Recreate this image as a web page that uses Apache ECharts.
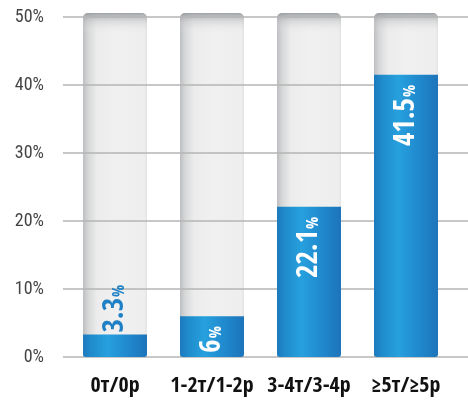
<!DOCTYPE html>
<html>
<head>
<meta charset="utf-8">
<script src="https://cdn.jsdelivr.net/npm/echarts@6/dist/echarts.min.js"></script>
<style>
  html, body { margin: 0; padding: 0; background: #ffffff; }
  #chart { width: 468px; height: 401px; }
</style>
</head>
<body>
<div id="chart"></div>
<script>
// Household groups and their share (%)
const categories = ['0т/0р', '1-2т/1-2р', '3-4т/3-4р', '≥5т/≥5р'];
const shares = [3.3, 6, 22.1, 41.5];

// Value axis ticks
const axisMin = 0;
const axisMax = 50;
const axisStep = 10;

// Height of the grey track behind each bar, and where its top shading starts
const trackTop = 50.6;
const shadeStart = 47.6;

const BOLD_FONT = "'Open Sans Condensed', 'Roboto Condensed', sans-serif";
const TICK_FONT = "'Roboto Condensed', 'Open Sans Condensed', sans-serif";

const chart = echarts.init(document.getElementById('chart'), null, { renderer: 'canvas' });

const blueFill = {
  type: 'linear', x: 0, y: 0, x2: 1, y2: 0,
  colorStops: [
    { offset: 0, color: '#1c79bd' },
    { offset: 0.12, color: '#1f8bcb' },
    { offset: 0.38, color: '#27a0de' },
    { offset: 0.7, color: '#2089cd' },
    { offset: 1, color: '#1d74ba' }
  ]
};

const trackFill = {
  type: 'linear', x: 0, y: 0, x2: 1, y2: 0,
  colorStops: [
    { offset: 0, color: '#bdbec1' },
    { offset: 0.08, color: '#d6d7d8' },
    { offset: 0.22, color: '#ececec' },
    { offset: 0.5, color: '#f0f0f0' },
    { offset: 0.96, color: '#eeeeee' },
    { offset: 1, color: '#e2e2e2' }
  ]
};

const shadeFill = {
  type: 'linear', x: 0, y: 0, x2: 0, y2: 1,
  colorStops: [
    { offset: 0, color: 'rgba(140,143,148,0.8)' },
    { offset: 0.4, color: 'rgba(185,187,190,0.4)' },
    { offset: 1, color: 'rgba(235,235,235,0)' }
  ]
};

const valueRich = {
  n: { fontFamily: BOLD_FONT, fontSize: 29, fontWeight: 'bold', lineHeight: 30, verticalAlign: 'bottom' },
  p: { fontFamily: BOLD_FONT, fontSize: 16, fontWeight: 'bold', lineHeight: 30, verticalAlign: 'bottom', padding: [0, 0, 2, 1] }
};

function valueLabel(v) {
  const outside = v < 5;
  return {
    show: true,
    position: outside ? 'top' : 'insideTop',
    rotate: 90,
    align: outside ? 'left' : 'right',
    verticalAlign: 'middle',
    distance: outside ? 2 : 10,
    color: outside ? '#1f80c6' : '#ffffff',
    formatter: '{n|' + v + '}{p|%}',
    rich: valueRich
  };
}

const option = {
  animation: false,
  grid: [
    { left: 66.5, right: 13.5, top: 13, bottom: 44 },
    { left: 63, right: 0, top: 17, bottom: 44 }
  ],
  xAxis: [
    {
      type: 'category', gridIndex: 0, data: categories,
      axisLine: { show: false }, axisTick: { show: false },
      axisLabel: { interval: 0, margin: 18, fontFamily: BOLD_FONT, fontSize: 22, fontWeight: 'bold', color: '#111111' }
    },
    { type: 'value', gridIndex: 1, show: false }
  ],
  yAxis: [
    { type: 'value', gridIndex: 0, min: 0, max: trackTop, show: false },
    {
      type: 'value', gridIndex: 1, min: axisMin, max: axisMax, interval: axisStep, z: 2,
      axisLine: { show: false }, axisTick: { show: false },
      axisLabel: { margin: 19, formatter: '{value}%', fontFamily: TICK_FONT, fontSize: 18, color: '#444444' },
      splitLine: { lineStyle: { color: 'rgba(180,180,180,0.75)', width: 2 } }
    }
  ],
  series: [
    {
      name: 'track', type: 'bar', xAxisIndex: 0, yAxisIndex: 0, z: 1, silent: true,
      barWidth: 64, barGap: '-100%',
      data: categories.map(() => trackTop),
      itemStyle: { color: trackFill, borderRadius: [5, 5, 0, 0] }
    },
    {
      name: 'shadeBase', type: 'bar', stack: 'shade', xAxisIndex: 0, yAxisIndex: 0, z: 1, silent: true,
      barWidth: 64, barGap: '-100%',
      data: categories.map(() => shadeStart),
      itemStyle: { color: 'rgba(0,0,0,0)' }
    },
    {
      name: 'shade', type: 'bar', stack: 'shade', xAxisIndex: 0, yAxisIndex: 0, z: 1, silent: true,
      barWidth: 64, barGap: '-100%',
      data: categories.map(() => trackTop - shadeStart),
      itemStyle: { color: shadeFill, borderRadius: [5, 5, 0, 0] }
    },
    {
      name: 'share', type: 'bar', xAxisIndex: 0, yAxisIndex: 0, z: 3,
      barWidth: 64, barGap: '-100%',
      data: shares.map(v => ({ value: v, label: valueLabel(v) })),
      itemStyle: { color: blueFill, borderRadius: [0, 0, 3, 3] }
    }
  ]
};

chart.setOption(option);
</script>
</body>
</html>
